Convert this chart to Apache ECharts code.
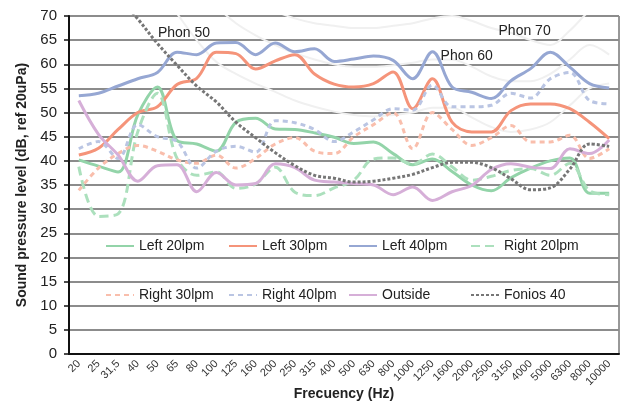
<!DOCTYPE html>
<html><head><meta charset="utf-8">
<script src="https://cdn.jsdelivr.net/npm/echarts@6/dist/echarts.min.js"></script>
<style>html,body{margin:0;padding:0;background:#fff}#c{width:626px;height:403px}</style>
</head><body><div id="c"></div>
<script>
// ---- data ----
const categories = ['20','25','31,5','40','50','65','80','100','125','160','200','250','315','400','500','630','800','1000','1250','1600','2000','2500','3150','4000','5000','6300','8000','10000'];
const left20  = [40.2,38.9,37.7,49.5,55.3,44.2,43.5,42.0,48.0,48.8,46.6,46.5,45.8,44.9,43.6,43.9,41.5,39.2,40.4,37.8,35.0,33.8,36.5,38.5,40.0,40.6,33.3,33.3];
const left30  = [41.2,42.6,46.5,50.0,51.2,55.8,57.1,62.5,62.2,59.0,60.7,62.0,58.0,55.9,55.3,56.0,58.4,50.8,57.0,48.0,46.0,46.0,50.4,51.8,51.8,50.8,48.0,44.6];
const left40  = [53.5,54.0,55.5,57.0,58.3,62.5,62.0,64.4,64.5,62.0,64.4,62.6,63.2,60.6,61.1,61.7,60.8,57.0,62.6,55.3,54.2,52.9,56.6,59.1,62.5,59.4,56.0,55.1];
const right20 = [38.8,28.5,29.0,46.0,54.0,40.5,37.0,37.7,34.3,35.2,38.7,33.5,32.8,34.4,36.0,40.4,40.6,39.3,41.4,38.8,36.0,36.8,38.0,38.4,37.0,39.5,33.8,33.0];
const right30 = [33.9,38.5,41.5,43.2,42.0,40.2,39.5,41.2,38.5,40.5,43.5,44.8,42.0,41.5,45.0,47.5,50.0,42.5,50.0,46.5,43.2,44.8,47.3,43.9,43.9,45.3,40.5,42.5];
const right40 = [42.5,44.0,40.5,47.5,45.0,44.0,38.5,42.0,43.0,41.8,48.3,47.9,46.5,44.0,46.0,48.5,50.8,50.5,55.7,51.2,51.2,51.5,54.0,53.0,57.0,58.3,52.5,51.8];
const outside = [52.5,45.5,41.2,35.8,39.0,39.2,33.6,37.6,35.0,35.3,39.4,38.6,36.0,35.6,35.3,35.0,33.0,34.6,31.8,33.6,34.9,38.2,39.4,38.7,38.4,42.5,41.5,44.3];
const fonios40 = [83.0,78.5,74.0,69.4,64.3,59.8,55.5,52.2,48.0,44.8,41.7,39.0,37.0,36.4,35.6,35.8,36.4,37.2,38.6,39.7,39.7,38.6,36.3,34.0,34.4,38.3,43.5,43.0];
const phon50 = [95,90,85,80,76,70.5,65,60.5,58,56,54.3,52.5,51.2,50.2,49.5,49.2,49.5,50,51,51,49,47,46,46.5,48,51.5,55,56];
const phon60 = [100,96,92,88,84,80,76,72,68.5,66,64,62.3,61,60,59.5,59.5,59.8,60.3,61,61,59.5,57.5,56.5,56.5,58,61,64,62];
const phon70 = [110,105,100,96,92,88,84,80,76,73,71,69.5,68.5,68,67.5,67.5,68,68.5,69.5,70,69,67.5,66.5,65,64,67,71,73];
const phonLabels = [
  {text:'Phon 50', cat:'65',   value:66.4},
  {text:'Phon 60', cat:'2000', value:61.7},
  {text:'Phon 70', cat:'4000', value:66.8}
];
const seriesNames = ['Left 20lpm','Left 30lpm','Left 40lpm','Right 20lpm','Right 30lpm','Right 40lpm','Outside','Fonios 40'];
const yTicks = {min:0, max:70, interval:5};

// ---- chart ----
const FONT = "'Liberation Sans Narrow','Arial Narrow','Liberation Sans',Arial,sans-serif";
const labelOffsets = [[7,0],[-5,0],[-6,0]];
const chart = echarts.init(document.getElementById('c'), null, {renderer:'canvas'});

function mk(name, data, color, type, width, z) {
  return {
    name, type:'line', data, smooth:0.35, symbol:'none', showSymbol:false, clip:true, z:z||2,
    lineStyle:{color, width:width||3, type:type||'solid'},
    itemStyle:{color},
    emphasis:{disabled:true}
  };
}
function faint(data, lbl, off) {
  const s = {
    type:'line', data, smooth:0.35, symbol:'none', clip:true, z:1, silent:true,
    lineStyle:{color:'#f0f0f0', width:2}, emphasis:{disabled:true}
  };
  if (lbl) {
    s.markPoint = {
      symbol:'circle', symbolSize:0, silent:true,
      label:{show:true, position:'inside', offset:off, formatter:lbl.text, color:'#222', fontSize:14, fontFamily:FONT},
      data:[{coord:[lbl.cat, lbl.value]}]
    };
  }
  return s;
}

const legendPos = [
  [105,238],[228,238],[348,238],[470,238],
  [105,287],[228,287],[348,287],[470,287]
];
const legends = seriesNames.map((n,i)=>({
  data:[n], left:legendPos[i][0], top:legendPos[i][1], itemWidth:28, itemHeight:16, itemGap:0,
  selectedMode:false, padding:0,
  itemStyle:{opacity:0},
  textStyle:{fontSize:14, fontFamily:FONT, color:'#222', lineHeight:16, padding:[0,0,0,0]}
}));

chart.setOption({
  animation:false,
  backgroundColor:'#fff',
  grid:{left:69, right:7, top:16, bottom:49, show:true, borderColor:'#333', borderWidth:1, backgroundColor:'transparent', containLabel:false, outerBoundsMode:'none'},
  legend:legends,
  xAxis:{
    type:'category', data:categories, boundaryGap:true,
    name:'Frecuency (Hz)', nameLocation:'middle', nameGap:33, nameMoveOverlap:false,
    nameTextStyle:{fontSize:14, fontWeight:'bold', fontFamily:FONT, color:'#222'},
    axisLine:{show:true, lineStyle:{color:'#111', width:2}},
    axisTick:{show:false},
    axisLabel:{rotate:45, interval:0, fontSize:11, fontFamily:"'Liberation Sans',Arial,sans-serif", color:'#333', margin:8},
    splitLine:{show:false}
  },
  yAxis:{
    type:'value', min:yTicks.min, max:yTicks.max, interval:yTicks.interval,
    name:'Sound pressure level (dB, ref 20uPa)', nameLocation:'middle', nameGap:40, nameMoveOverlap:false,
    nameTextStyle:{fontSize:14, fontWeight:'bold', fontFamily:FONT, color:'#222'},
    axisLine:{show:true, lineStyle:{color:'#111', width:2}},
    axisTick:{show:true, length:5, lineStyle:{color:'#111', width:1.5}},
    axisLabel:{fontSize:15, fontFamily:FONT, color:'#222', margin:12},
    splitLine:{show:true, lineStyle:{color:'#8c8c8c', width:2}}
  },
  series:[
    faint(phon50, phonLabels[0], labelOffsets[0]),
    faint(phon60, phonLabels[1], labelOffsets[1]),
    faint(phon70, phonLabels[2], labelOffsets[2]),
    mk('Left 20lpm', left20, '#93d4a9', 'solid', 3, 3),
    mk('Left 30lpm', left30, '#f5947a', 'solid', 3, 3),
    mk('Left 40lpm', left40, '#96a7d3', 'solid', 3, 3),
    mk('Right 20lpm', right20, '#ace0bd', [9,5], 3, 3),
    mk('Right 30lpm', right30, '#f9beac', [5,4], 3, 3),
    mk('Right 40lpm', right40, '#bac5e3', [5,4], 3, 3),
    mk('Outside', outside, '#d6afd8', 'solid', 3, 3),
    mk('Fonios 40', fonios40, '#767676', [3,2], 3, 4)
  ]
});
</script></body></html>
